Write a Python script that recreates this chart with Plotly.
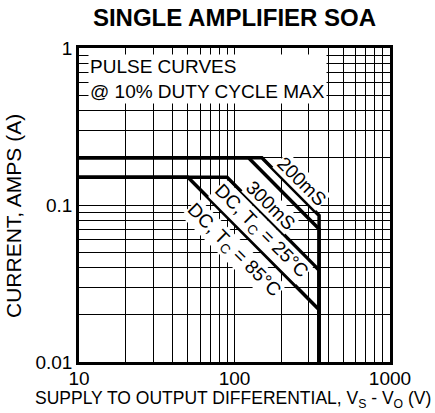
import math
import plotly.graph_objects as go

# ---- data ----
curve_names = ["200mS", "300mS", "DC, T<sub>C</sub> = 25°C", "DC, T<sub>C</sub> = 85°C"]
x_200ms = [10, 150, 350, 350]
y_200ms = [0.2, 0.2, 0.0857, 0.01]
x_300ms = [10, 123, 350, 350]
y_300ms = [0.2, 0.2, 0.0703, 0.01]
x_dc25 = [10, 89.6, 350, 350]
y_dc25 = [0.15, 0.15, 0.0384, 0.01]
x_dc85 = [10, 50.2, 350, 350]
y_dc85 = [0.15, 0.15, 0.0215, 0.01]

# label anchor points (volts, amps)
label_x = [272, 172, 148, 99]
label_y = [0.142, 0.1, 0.067, 0.051]

x_major = [10, 100, 1000]
x_major_text = ["10", "100", "1000"]
y_major = [0.01, 0.1, 1]
y_major_text = ["0.01", "0.1", "1"]
x_minor = [m * d for d in (10, 100) for m in range(2, 10)]
y_minor = [m * d for d in (0.01, 0.1) for m in range(2, 10)]

FONT = "Liberation Sans, Arial, Helvetica, sans-serif"

fig = go.Figure()
for xs, ys in [(x_200ms, y_200ms), (x_300ms, y_300ms), (x_dc25, y_dc25), (x_dc85, y_dc85)]:
    fig.add_trace(go.Scatter(x=xs, y=ys, mode="lines",
                             line=dict(color="black", width=3.5),
                             showlegend=False, hoverinfo="skip"))

annotations = []
for name, lx, ly in zip(curve_names, label_x, label_y):
    annotations.append(dict(x=math.log10(lx), y=math.log10(ly), xref="x", yref="y",
                            text=name, showarrow=False, textangle=45,
                            font=dict(family=FONT, size=19, color="black"),
                            bgcolor="white", borderpad=0,
                            xanchor="center", yanchor="middle"))

annotations.append(dict(x=0.029, y=0.982, xref="paper", yref="paper",
                        text="PULSE CURVES<br>@ 10% DUTY CYCLE MAX", align="left",
                        showarrow=False, xanchor="left", yanchor="top",
                        font=dict(family=FONT, size=19, color="black"),
                        bgcolor="white", borderpad=1))

annotations.append(dict(x=0.495, y=-0.12, xref="paper", yref="paper",
                        text="SUPPLY TO OUTPUT DIFFERENTIAL, V<sub>S</sub> - V<sub>O</sub> (V)",
                        showarrow=False, xanchor="center", yanchor="middle",
                        font=dict(family=FONT, size=17.5, color="black")))
annotations.append(dict(x=-0.209, y=0.465, xref="paper", yref="paper",
                        text="CURRENT, AMPS (A)", textangle=-90,
                        showarrow=False, xanchor="center", yanchor="middle",
                        font=dict(family=FONT, size=21, color="black")))

axis_common = dict(type="log", showgrid=True, gridcolor="black", gridwidth=1,
                   showline=True, mirror=True, linecolor="black", linewidth=2.5,
                   ticks="", zeroline=False,
                   tickfont=dict(family=FONT, size=19, color="black"))

fig.update_layout(
    width=435, height=413,
    margin=dict(l=79, r=45, t=48, b=51),
    paper_bgcolor="white", plot_bgcolor="white",
    title=dict(text="<b>SINGLE AMPLIFIER SOA</b>", x=0.5, xref="paper",
               y=1 - 18 / 413, yref="container", yanchor="middle",
               font=dict(family=FONT, size=24, color="black")),
    xaxis=dict(range=[1, 3], tickvals=x_major, ticktext=x_major_text,
               ticklabelstandoff=-3,
               minor=dict(tickvals=x_minor, showgrid=True, gridcolor="black", gridwidth=1, ticks=""),
               **axis_common),
    yaxis=dict(range=[-2, 0], tickvals=y_major, ticktext=y_major_text,
               minor=dict(tickvals=y_minor, showgrid=True, gridcolor="black", gridwidth=1, ticks=""),
               **axis_common),
    annotations=annotations,
)

fig.write_html("out.html", config={"displayModeBar": False},
               post_script="document.body.style.margin='0';document.body.style.padding='0';")
